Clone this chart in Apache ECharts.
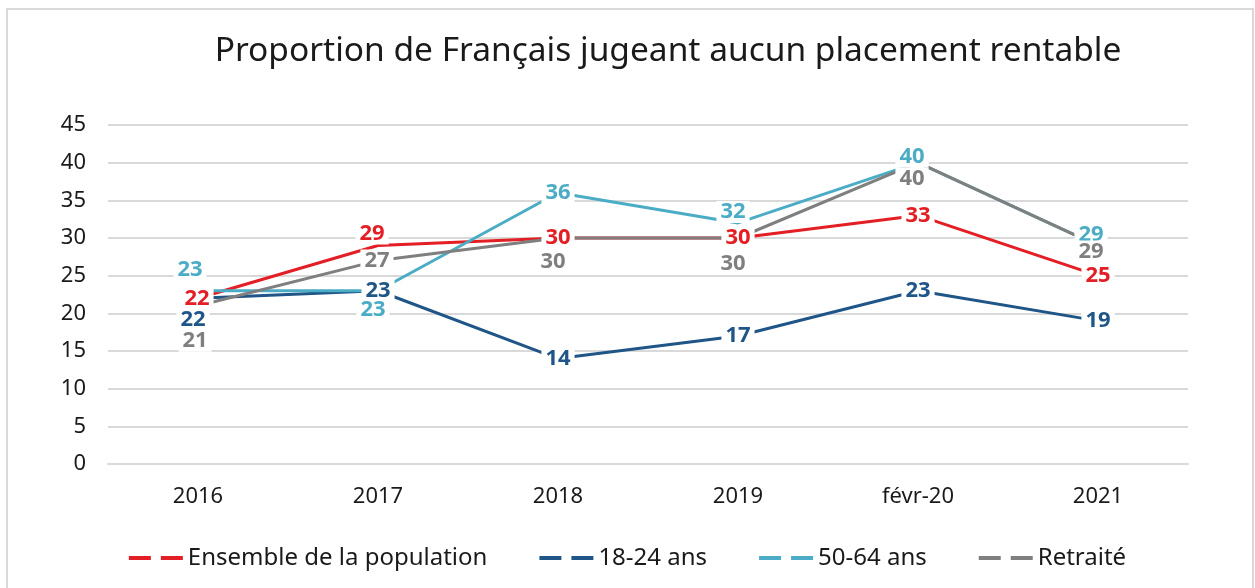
<!DOCTYPE html>
<html>
<head>
<meta charset="utf-8">
<script src="https://cdn.jsdelivr.net/npm/echarts@6/dist/echarts.min.js"></script>
<style>
  html, body { margin: 0; padding: 0; background: #fff; }
  #main { width: 1255px; height: 588px; }
</style>
</head>
<body>
<div id="main"></div>
<script>
var categories = ['2016', '2017', '2018', '2019', 'févr-20', '2021'];
var ensemble = [22, 29, 30, 30, 33, 25];
var jeunes = [22, 23, 14, 17, 23, 19];
var seniors = [23, 23, 36, 32, 40, 29];
var retraites = [21, 27, 30, 30, 40, 29];

// hand-placed label nudges, as in the original chart
var nudges = {
  ensemble: [[-1, 0], [-6, -12], [0, 0], [0, 0], [0, 0], [0, 0]],
  jeunes: [[-5, 21], [0, 0], [0, 0], [0, 0], [0, 0], [0, 0]],
  seniors: [[-8, -21], [-5, 19], [0, 0], [-5, -11], [-6, -6], [-7, -11]],
  retraites: [[-3, 35], [-1, 0], [-5, 24], [-5, 26], [-6, 16], [-7, 6]]
};

var FONT = '"Noto Sans", sans-serif';

function makeSeries(name, values, color, nudge) {
  return {
    name: name,
    type: 'line',
    data: values.map(function (v, i) {
      return { value: v, label: { offset: nudge[i] } };
    }),
    symbol: 'circle',
    symbolSize: 0,
    showSymbol: true,
    lineStyle: { color: color, width: 3 },
    itemStyle: { color: color },
    label: {
      show: true,
      position: 'inside',
      color: color,
      fontFamily: FONT,
      fontWeight: 'bold',
      fontSize: 22,
      backgroundColor: '#fff',
      padding: [0, 4]
    },
    emphasis: { disabled: true },
    animation: false
  };
}

var chart = echarts.init(document.getElementById('main'));
chart.setOption({
  backgroundColor: '#fff',
  graphic: [{
    type: 'rect',
    shape: { x: 7, y: 9, width: 1246, height: 600 },
    style: { fill: 'none', stroke: '#d9d9d9', lineWidth: 2 },
    silent: true
  }],
  title: {
    text: 'Proportion de Français jugeant aucun placement rentable',
    left: 663,
    textAlign: 'center',
    top: 29,
    textStyle: { fontFamily: FONT, fontWeight: 'normal', fontSize: 33.5, color: '#1a1a1a' }
  },
  legend: {
    bottom: 13,
    left: 'center',
    itemGap: 52,
    itemWidth: 54,
    itemHeight: 4,
    icon: 'path://M0,0h22v4h-22z M32,0h22v4h-22z',
    textStyle: { fontFamily: FONT, fontSize: 24, color: '#1a1a1a' },
    data: ['Ensemble de la population', '18-24 ans', '50-64 ans', 'Retraité']
  },
  grid: { left: 108, right: 67, top: 125, bottom: 124 },
  xAxis: {
    type: 'category',
    data: categories,
    boundaryGap: true,
    axisLine: { lineStyle: { color: '#d9d9d9', width: 2 } },
    axisTick: { show: false },
    axisLabel: { margin: 22, fontFamily: FONT, fontSize: 22, color: '#1a1a1a' }
  },
  yAxis: {
    type: 'value',
    min: 0,
    max: 45,
    interval: 5,
    axisLine: { show: false },
    axisTick: { show: false },
    axisLabel: { margin: 22, fontFamily: FONT, fontSize: 22, color: '#1a1a1a' },
    splitLine: { lineStyle: { color: '#d9d9d9', width: 2 } }
  },
  series: [
    makeSeries('Ensemble de la population', ensemble, '#e31e24', nudges.ensemble),
    makeSeries('18-24 ans', jeunes, '#1f5587', nudges.jeunes),
    makeSeries('50-64 ans', seniors, '#4bacc6', nudges.seniors),
    makeSeries('Retraité', retraites, '#7f7f7f', nudges.retraites)
  ]
});
</script>
</body>
</html>
